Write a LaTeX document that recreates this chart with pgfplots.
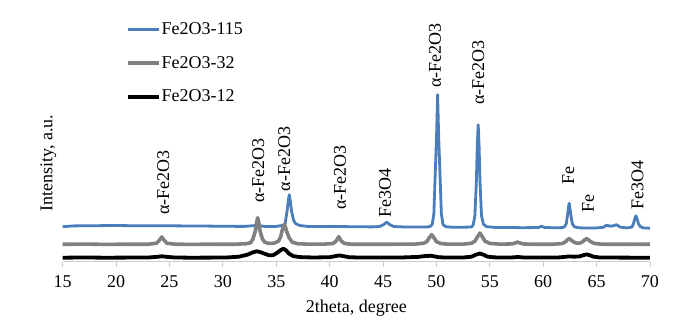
\documentclass[border=0pt]{standalone}
\usepackage{pgfplots}
\pgfplotsset{compat=1.18}
\usepackage{fontspec}
\setmainfont{Liberation Serif}
\newcommand\ff{\fontsize{18}{21.6}\selectfont}
\definecolor{xblue}{RGB}{74,126,187}
\definecolor{xgray}{RGB}{128,128,128}
\begin{document}
\begin{tikzpicture}
\begin{axis}[
  at={(0,0)},anchor=south west,scale only axis,
  width=587.3pt,height=261.7pt,
  xmin=15,xmax=70,ymin=0,ymax=261.7,
  axis x line*=bottom,axis y line=none,
  x axis line style={draw=black!20,line width=0.8pt},
  xtick={15,20,...,70},
  tick align=outside,major tick length=5pt,
  xtick style={draw=black!20,line width=0.8pt},
  /pgf/number format/assume math mode=true,
  xticklabel style={font=\ff,anchor=base,yshift=-21pt},
  xlabel={2theta, degree},
  xlabel style={font=\ff,at={(axis description cs:0.5,-0.196)},anchor=base},
  clip=false,
  legend style={font=\ff,draw=none,fill=none,at={(axis description cs:0.1078,0.916)},anchor=north west,
    inner sep=0pt,row sep=19pt,nodes={inner sep=0.6pt,anchor=west}},
  legend cell align=left,
  legend image code/.code={\draw[#1] (0pt,0pt) -- (31pt,0pt);},
]
\addplot[xblue,line width=2.8pt,line join=round] coordinates {
(15,35.0) (16,35.8) (18,36.0) (20,36.2) (22,35.9) (24,36.0) (26,35.8) (28,35.7) (30,35.4) (32,35.3) (33.2,36.3) (34,35.2) (35,35.3)
(35.62,36.3) (35.82,37.4) (36.02,51) (36.12,60.6) (36.22,67) (36.32,60.6) (36.42,51) (36.62,41.4) (36.82,38) (37.2,36.2) (38,35.2) (40,35.3) (42,35) (44,34.8)
(44.7,35.2) (45.04,37) (45.34,39.5) (45.64,37) (46,35.2) (47,34.7) (48,34.6) (49,34.6)
(49.4,35.2) (49.6,37) (49.76,48) (49.91,95) (50.01,125) (50.11,167) (50.21,125) (50.31,95) (50.46,48) (50.62,37) (50.9,35.0) (51.5,34.4) (52.5,34.4) (53.3,34.8)
(53.45,37) (53.6,46) (53.74,80) (53.83,118) (53.91,137) (53.99,118) (54.08,80) (54.22,46) (54.4,37.5) (54.7,35) (55.5,34.3) (57,34.2) (58,34.0) (59,34.1)
(59.6,34.3) (59.85,35.5) (60.1,34.3) (61,33.9) (61.8,34.1)
(62.0,35) (62.16,38) (62.27,46) (62.35,53) (62.43,58.5) (62.51,53) (62.6,46) (62.72,38) (62.9,35) (63.3,33.9) (64,33.7) (65,33.8)
(65.6,34.3) (65.93,36.5) (66.3,35.5) (66.6,36) (66.87,37) (67.2,34.6) (67.8,33.8) (68.3,34.5)
(68.45,38) (68.58,43) (68.68,46) (68.78,43) (68.92,38) (69.1,35) (69.4,33.8) (70,33.5)};
\addlegendentry{Fe2O3-115}
\addplot[xgray,line width=3.6pt,line join=round] coordinates {
(15,17.4) (17,17.6) (19,17.3) (21,17.5) (23,17.4) (23.8,18.5) (24.05,21.5) (24.27,24.7) (24.5,21.5) (24.75,18.5) (25.5,17.5) (27,17.3) (29,17.5) (31,17.4) (32.2,18.0)
(32.6,19) (32.82,22.8) (33.04,30.7) (33.15,38.6) (33.26,44) (33.37,38.6) (33.48,30.7) (33.7,22.8) (33.92,19.5) (34.3,18.3) (34.8,18.5)
(35.2,20.5) (35.42,25) (35.53,30.5) (35.64,34.5) (35.75,37.4) (35.86,34.5) (35.97,30.5) (36.2,24) (36.5,19.5) (37,18) (38,17.5) (39.5,17.6)
(40.3,18.2) (40.6,20.5) (40.85,25) (41.1,20.5) (41.4,18.2) (42,17.5) (44,17.4) (46,17.5) (48,17.6) (48.8,18.5)
(49.1,20) (49.3,23.5) (49.55,27) (49.8,23.5) (50.0,20) (50.4,18.2) (51,17.6) (52.5,17.5) (53.3,18.5)
(53.6,20.5) (53.82,24.5) (54.07,28.7) (54.32,24.5) (54.55,20.5) (55,18.3) (56,17.5) (57.1,17.8) (57.4,18.8) (57.6,19.5) (57.8,18.8) (58.1,17.8) (59,17.4) (61,17.5) (61.8,18.2)
(62.1,20) (62.25,21.8) (62.43,23) (62.6,21.8) (62.8,20) (63.1,18.6) (63.4,18.5) (63.7,20) (63.88,21.8) (64.06,23) (64.24,21.8) (64.45,20) (64.8,18.2) (65.5,17.5) (67,17.4) (68.5,17.5) (70,17.4)};
\addlegendentry{Fe2O3-32}
\addplot[black,line width=3.8pt,line join=round] coordinates {
(15,4) (17,4.2) (19,4.0) (21,4.1) (23,4.2) (23.8,4.8) (24.3,5.4) (24.8,4.8) (25.5,4.2) (27,4.0) (29,4.1) (30.5,4.3) (31.5,5) (32.3,7) (32.8,9.3) (33.16,10.4) (33.5,9.6) (33.9,8) (34.3,6.5) (34.7,6.5) (35.1,9) (35.4,11.5) (35.66,13) (35.9,11.5) (36.2,8) (36.6,5.6) (37.2,4.6) (38.5,4.2) (40,4.5) (40.5,5.5) (40.9,6.3) (41.3,5.5) (41.8,4.5) (43,4.1) (45,4.1) (47,4.3) (48.3,4.8) (48.8,5.5) (49.2,5.8) (49.5,5.9) (49.8,5.3) (50.2,4.5) (51,4.1) (52.5,4.2) (53.3,5) (53.7,7) (54.07,8.2) (54.4,7) (54.8,5) (55.5,4.3) (57,4.2) (57.6,4.7) (58.2,4.2) (60,4.1) (61.5,4.3) (62,4.8) (62.4,5.3) (62.9,5.0) (63.4,5.3) (63.75,6.5) (64.06,7.3) (64.35,6.5) (64.7,5) (65.3,4.2) (67,4.1) (69,4.0) (70,4.0)};
\addlegendentry{Fe2O3-12}
\node[rotate=90,anchor=center,inner sep=0pt,font=\ff] at (axis description cs:-0.0245,0.376) {Intensity, a.u.};
\begin{scope}[every node/.style={rotate=90,anchor=west,inner sep=0pt,font=\ff}]
\node at (axis cs:24.42,47) {α-Fe2O3};
\node at (axis cs:33.31,58.7) {α-Fe2O3};
\node at (axis cs:35.75,70.3) {α-Fe2O3};
\node at (axis cs:40.96,52) {α-Fe2O3};
\node at (axis cs:45.18,43.7) {Fe3O4};
\node at (axis cs:49.86,173.7) {α-Fe2O3};
\node at (axis cs:53.91,157) {α-Fe2O3};
\node at (axis cs:62.34,77) {Fe};
\node at (axis cs:64.21,48.7) {Fe};
\node at (axis cs:68.84,52) {Fe3O4};
\end{scope}
\end{axis}
\pgfresetboundingbox
\path[use as bounding box] (-62.7pt,-58.3pt) rectangle (618.3pt,261.7pt);
\end{tikzpicture}
\end{document}
